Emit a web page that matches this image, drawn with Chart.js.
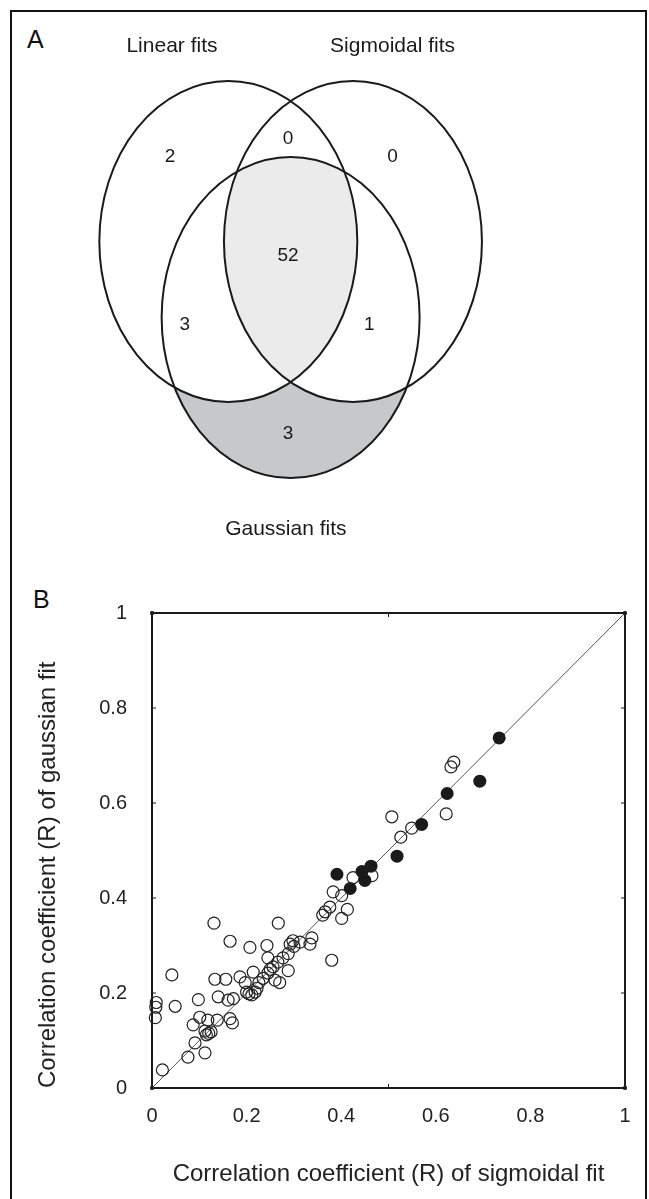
<!DOCTYPE html>
<html>
<head>
<meta charset="utf-8">
<script src="https://cdn.jsdelivr.net/npm/chart.js@4.4.1/dist/chart.umd.min.js"></script>
<style>
  body { margin: 0; background: #fff; }
  #frame { position: absolute; left: 10px; top: 10px; width: 633px; height: 1200px; border: 2px solid #111; border-bottom: none; }
  .panel { position: absolute; font-family: "Liberation Sans", Arial, sans-serif; font-size: 25px; line-height: 25px; color: #111; }
  canvas { position: absolute; left: 0; }
</style>
</head>
<body>
<div id="frame"></div>
<div class="panel" style="left:27px; top:27px;">A</div>
<div class="panel" style="left:33px; top:587px;">B</div>
<canvas id="venn" width="649" height="580" style="top:0"></canvas>
<canvas id="scatter" width="649" height="619" style="top:580px"></canvas>
<script>
// ---- panel A data ----
var vennSets = ["Linear fits", "Sigmoidal fits", "Gaussian fits"];
// regions: L only, L&S only, S only, all three, L&G only, S&G only, G only
var vennCounts = [2, 0, 0, 52, 3, 1, 3];

// ---- panel B data: correlation coefficient R (sigmoidal fit vs gaussian fit) ----
var openSigmoidR = [0.638,0.632,0.622,0.549,0.526,0.507,0.465,0.425,0.383,0.401,0.413,0.401,0.376,0.366,0.361,0.380,
  0.338,0.334,0.313,0.298,0.292,0.267,0.243,0.207,0.165,0.131,0.288,0.245,0.277,0.266,0.256,0.245,0.235,0.222,0.218,
  0.211,0.200,0.205,0.260,0.270,0.214,0.186,0.156,0.133,0.042,0.049,0.009,0.008,0.007,0.098,0.140,0.161,0.172,0.101,
  0.087,0.118,0.138,0.165,0.170,0.112,0.120,0.125,0.115,0.091,0.112,0.076,0.022,0.288,0.300,0.226,0.250,0.197];
var openGaussianR = [0.686,0.676,0.577,0.547,0.528,0.571,0.447,0.443,0.413,0.405,0.376,0.357,0.381,0.371,0.364,0.269,
  0.316,0.303,0.307,0.310,0.303,0.347,0.300,0.296,0.309,0.347,0.247,0.274,0.274,0.265,0.255,0.242,0.231,0.210,0.202,
  0.196,0.202,0.198,0.227,0.222,0.244,0.234,0.229,0.229,0.238,0.172,0.180,0.170,0.148,0.186,0.192,0.185,0.188,0.149,
  0.133,0.143,0.143,0.146,0.137,0.120,0.115,0.118,0.112,0.095,0.074,0.065,0.038,0.283,0.298,0.222,0.250,0.222];
var filledSigmoidR = [0.734,0.693,0.624,0.570,0.518,0.463,0.444,0.450,0.391,0.419];
var filledGaussianR = [0.737,0.646,0.620,0.555,0.488,0.467,0.456,0.437,0.450,0.420];
var identityLine = [0, 1];
var axisTicks = [0, 0.2, 0.4, 0.6, 0.8, 1];
var xTickMarks = [0, 0.5, 1];

Chart.defaults.font.family = '"Liberation Sans", Arial, sans-serif';
Chart.defaults.color = "#222";

// venn layout, in circle-radius units
var vennLayout = {
  centers: [[-0.483, 0], [0.483, 0], [0, -0.474]],
  labels: [[-0.92, 1.215], [0.79, 1.215], [-0.037, -1.79]],
  regions: [[-0.935, 0.53], [-0.02, 0.64], [0.79, 0.53], [-0.02, -0.09], [-0.82, -0.52], [0.61, -0.52], [-0.02, -1.2]]
};

var vennPlugin = {
  id: "venn",
  afterDatasetsDraw: function (chart) {
    var ctx = chart.ctx, sx = chart.scales.x, sy = chart.scales.y;
    var rx = sx.getPixelForValue(1) - sx.getPixelForValue(0);
    var ry = sy.getPixelForValue(0) - sy.getPixelForValue(1);
    function path(i) {
      var c = vennLayout.centers[i];
      ctx.beginPath();
      ctx.ellipse(sx.getPixelForValue(c[0]), sy.getPixelForValue(c[1]), rx, ry, 0, 0, Math.PI * 2);
    }
    ctx.save();
    // gaussian only
    path(2); ctx.fillStyle = "#c7c8ca"; ctx.fill();
    ctx.save(); path(2); ctx.clip();
    ctx.fillStyle = "#fff"; path(0); ctx.fill(); path(1); ctx.fill();
    ctx.restore();
    // all three
    ctx.save(); path(0); ctx.clip(); path(1); ctx.clip();
    path(2); ctx.fillStyle = "#ebebeb"; ctx.fill();
    ctx.restore();
    ctx.lineWidth = 2; ctx.strokeStyle = "#1a1a1a";
    for (var i = 0; i < 3; i++) { path(i); ctx.stroke(); }

    ctx.fillStyle = "#1a1a1a";
    ctx.textAlign = "center";
    ctx.textBaseline = "middle";
    ctx.font = '19px "Liberation Sans", Arial, sans-serif';
    vennCounts.forEach(function (n, k) {
      var p = vennLayout.regions[k];
      ctx.fillText(String(n), sx.getPixelForValue(p[0]), sy.getPixelForValue(p[1]));
    });
    ctx.font = '21px "Liberation Sans", Arial, sans-serif';
    vennSets.forEach(function (name, k) {
      var p = vennLayout.labels[k];
      ctx.fillText(name, sx.getPixelForValue(p[0]), sy.getPixelForValue(p[1]));
    });
    ctx.restore();
  }
};

new Chart(document.getElementById("venn"), {
  type: "scatter",
  data: { datasets: [] },
  options: {
    responsive: false, animation: false, events: [],
    layout: { padding: 0 },
    plugins: { legend: { display: false }, tooltip: { enabled: false } },
    scales: {
      x: { type: "linear", min: -2.253, max: 2.778, display: false },
      y: { type: "linear", min: -2.109, max: 1.505, display: false }
    }
  },
  plugins: [vennPlugin]
});

// frame + inward tick marks
var framePlugin = {
  id: "frame",
  afterDatasetsDraw: function (chart) {
    var ctx = chart.ctx, a = chart.chartArea, sx = chart.scales.x, sy = chart.scales.y;
    ctx.save();
    ctx.strokeStyle = "#1a1a1a";
    ctx.lineWidth = 1;
    ctx.beginPath();
    axisTicks.forEach(function (v) {
      var py = sy.getPixelForValue(v);
      ctx.moveTo(a.left, py); ctx.lineTo(a.left + 4, py);
      ctx.moveTo(a.right, py); ctx.lineTo(a.right - 4, py);
    });
    xTickMarks.forEach(function (v) {
      var px = sx.getPixelForValue(v);
      ctx.moveTo(px, a.top); ctx.lineTo(px, a.top + 4);
      ctx.moveTo(px, a.bottom); ctx.lineTo(px, a.bottom - 4);
    });
    ctx.stroke();
    ctx.lineWidth = 2;
    ctx.strokeRect(a.left, a.top, a.right - a.left, a.bottom - a.top);
    ctx.restore();
  }
};

function pairs(xs, ys) {
  return xs.map(function (v, i) { return { x: v, y: ys[i] }; });
}
function tickText(v) { return String(Math.round(v * 10) / 10); }

new Chart(document.getElementById("scatter"), {
  type: "scatter",
  data: {
    datasets: [
      {
        label: "filled",
        data: pairs(filledSigmoidR, filledGaussianR),
        pointRadius: 6.5, backgroundColor: "#1a1a1a", borderColor: "#1a1a1a", borderWidth: 0,
        clip: false
      },
      {
        label: "open",
        data: pairs(openSigmoidR, openGaussianR),
        pointRadius: 6, backgroundColor: "rgba(0,0,0,0)", borderColor: "#222", borderWidth: 1.2,
        clip: false
      },
      {
        label: "corners",
        data: [{ x: 0, y: 1 }, { x: 1, y: 0 }],
        pointStyle: "rect", pointRadius: 2, backgroundColor: "#fff", borderColor: "#222", borderWidth: 1,
        clip: false
      },
      {
        label: "identity",
        type: "line",
        data: pairs(identityLine, identityLine),
        borderColor: "#555", borderWidth: 1,
        pointStyle: "rect", pointRadius: 2, pointBackgroundColor: "#fff", pointBorderColor: "#222", pointBorderWidth: 1,
        clip: false
      }
    ]
  },
  options: {
    responsive: false, animation: false, events: [],
    layout: { padding: { left: 0, top: 33, right: 24, bottom: 0 } },
    plugins: { legend: { display: false }, tooltip: { enabled: false } },
    scales: {
      x: {
        type: "linear", min: 0, max: 1,
        grid: { display: false, drawTicks: false },
        border: { display: false },
        ticks: { stepSize: 0.2, padding: 16, font: { size: 20 }, color: "#222", callback: tickText },
        title: { display: true, text: "Correlation coefficient (R) of sigmoidal fit", font: { size: 24 }, color: "#222", padding: { top: 0, bottom: 10 } },
        afterFit: function (s) { s.height = 111; s.paddingLeft = 0; s.paddingRight = 0; }
      },
      y: {
        type: "linear", min: 0, max: 1,
        grid: { display: false, drawTicks: false },
        border: { display: false },
        ticks: { stepSize: 0.2, padding: 25, font: { size: 20 }, color: "#222", callback: tickText },
        title: { display: true, text: "Correlation coefficient (R) of gaussian fit", align: "start", font: { size: 24 }, color: "#222", padding: { top: 34, bottom: 0 } },
        afterFit: function (s) { s.width = 152; s.paddingTop = 0; s.paddingBottom = 0; }
      }
    }
  },
  plugins: [framePlugin]
});
</script>
</body>
</html>
